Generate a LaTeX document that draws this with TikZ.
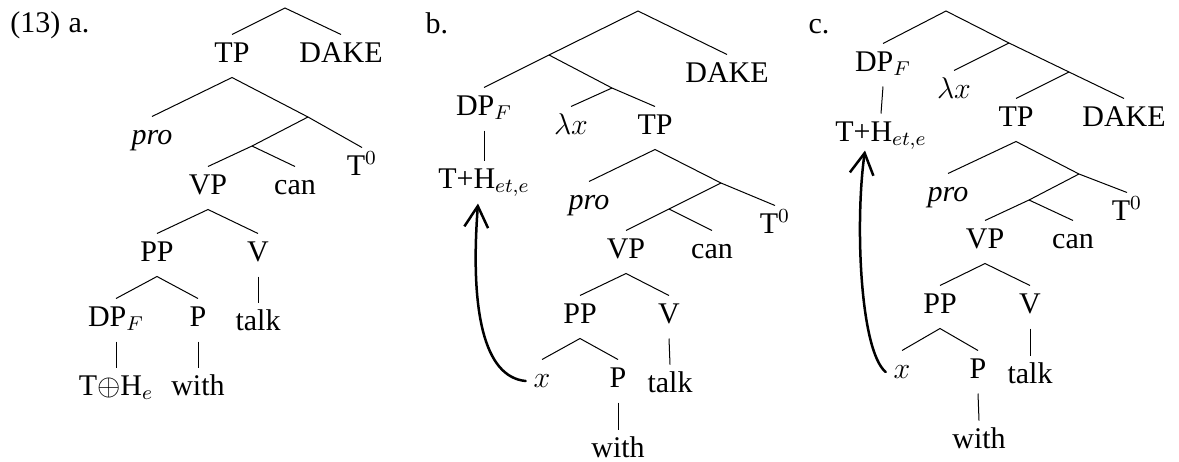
\documentclass[tikz,border=0pt]{standalone}
\usepackage{fontspec}
\setmainfont{Liberation Serif}
\usetikzlibrary{arrows.meta,calc}
\tikzset{
  tn/.style={anchor=base, inner sep=0pt, outer sep=3.2pt, text height=7.8pt, text depth=3pt, font=\fontsize{12}{14}\selectfont},
  lbl/.style={anchor=base west, inner sep=0pt, font=\fontsize{12}{14}\selectfont},
  br/.style={line width=0.4pt},
  arr/.style={line width=1pt, line cap=round, -{Straight Barb[length=8.5pt,width=9.5pt,line width=1pt]}}
}
\begin{document}
\begin{tikzpicture}[x=0.4pt,y=-0.4pt]
\useasboundingbox (0,0) rectangle (1179,461);
% ---------- (13) a.
\node[lbl] (num) at (10,32) {(13)};
\node[lbl] (la) at (68,32) {a.};
\coordinate (a-r) at (285,8);
\node[tn] (a-tp) at (232,62) {TP};
\node[tn] (a-dake) at (341,62) {DAKE};
\node[tn] (a-pro) at (152,144) {\textit{pro}};
\coordinate (a-x1) at (308,117);
\node[tn] (a-t0) at (362,175) {T$^0$};
\coordinate (a-x2) at (252,146);
\node[tn] (a-vp) at (208,194) {VP};
\node[tn] (a-can) at (295,194) {can};
\node[tn] (a-pp) at (157,261) {PP};
\node[tn] (a-v) at (258,261) {V};
\node[tn] (a-dp) at (116,326) {DP$_F$};
\node[tn] (a-p) at (198,326) {P};
\node[tn] (a-talk) at (258,330) {talk};
\node[tn] (a-th) at (116,395) {T$\oplus$H$_e$};
\node[tn] (a-with) at (198,395) {with};
\draw[br] (a-tp.north) -- (a-r) -- (a-dake.north);
\draw[br] (a-pro.north) -- (a-tp.south) -- (a-x1) -- (a-t0.north);
\draw[br] (a-x1) -- (a-x2) -- (a-vp.north);
\draw[br] (a-x2) -- (a-can.north);
\draw[br] (a-pp.north) -- (a-vp.south) -- (a-v.north);
\draw[br] (a-dp.north) -- (a-pp.south) -- (a-p.north);
\draw[br] (a-v.south) -- (a-talk.north);
\draw[br] (a-dp.south) -- (a-th.north);
\draw[br] (a-p.south) -- (a-with.north);
% ---------- b.
\node[lbl] (lb) at (425,33) {b.};
\coordinate (b-r) at (638,11);
\coordinate (b-x1) at (549,55);
\node[tn] (b-dp) at (484,115) {DP$_F$};
\node[tn] (b-dake) at (727,82) {DAKE};
\coordinate (b-x2) at (612,88);
\node[tn] (b-lx) at (571,134) {$\lambda x$};
\node[tn] (b-tp) at (655,134) {TP};
\node[tn] (b-th) at (484,188) {T+H$_{et,e}$};
\coordinate (b-x3) at (721,183);
\node[tn] (b-pro) at (589,209) {\textit{pro}};
\node[tn] (b-t0) at (775,233) {T$^0$};
\coordinate (b-x4) at (669,209);
\node[tn] (b-vp) at (626,258) {VP};
\node[tn] (b-can) at (712,258) {can};
\node[tn] (b-pp) at (580,323) {PP};
\node[tn] (b-v) at (669,323) {V};
\node[tn] (b-x) at (542,387) {$x$};
\node[tn] (b-p) at (618,387) {P};
\node[tn] (b-talk) at (670,392) {talk};
\node[tn] (b-with) at (618,457) {with};
\draw[br] (b-dp.north) -- (b-x1) -- (b-r) -- (b-dake.north);
\draw[br] (b-x1) -- (b-x2) -- (b-tp.north);
\draw[br] (b-x2) -- (b-lx.north);
\draw[br] (b-dp.south) -- (b-th.north);
\draw[br] (b-pro.north) -- (b-tp.south) -- (b-x3) -- (b-t0.north);
\draw[br] (b-x3) -- (b-x4) -- (b-vp.north);
\draw[br] (b-x4) -- (b-can.north);
\draw[br] (b-pp.north) -- (b-vp.south) -- (b-v.north);
\draw[br] (b-x.north) -- (b-pp.south) -- (b-p.north);
\draw[br] (b-v.south) -- (b-talk.north);
\draw[br] (b-p.south) -- (b-with.north);
\draw[arr] (b-x.west) .. controls +(-42,-4) and +(-8,107) .. ($(b-th.south)+(-6,0)$);
% ---------- c.
\node[lbl] (lc) at (808,33) {c.};
\coordinate (c-r) at (946,11);
\node[tn] (c-dp) at (883,71) {DP$_F$};
\coordinate (c-x1) at (1009,43);
\node[tn] (c-lx) at (954,98) {$\lambda x$};
\coordinate (c-x2) at (1069,72);
\node[tn] (c-tp) at (1016,126) {TP};
\node[tn] (c-dake) at (1124,126) {DAKE};
\node[tn] (c-th) at (881,141) {T+H$_{et,e}$};
\node[tn] (c-pro) at (948,201) {\textit{pro}};
\coordinate (c-x3) at (1079,174);
\node[tn] (c-t0) at (1127,220) {T$^0$};
\coordinate (c-x4) at (1029,200);
\node[tn] (c-vp) at (985,248) {VP};
\node[tn] (c-can) at (1073,248) {can};
\node[tn] (c-pp) at (940,313) {PP};
\node[tn] (c-v) at (1030,313) {V};
\node[tn] (c-x) at (902,378) {$x$};
\node[tn] (c-p) at (978,378) {P};
\node[tn] (c-talk) at (1030,383) {talk};
\node[tn] (c-with) at (979,448) {with};
\draw[br] (c-dp.north) -- (c-r) -- (c-x1) -- (c-x2) -- (c-dake.north);
\draw[br] (c-x1) -- (c-lx.north);
\draw[br] (c-x2) -- (c-tp.north);
\draw[br] (c-dp.south) -- (c-th.north);
\draw[br] (c-pro.north) -- (c-tp.south) -- (c-x3) -- (c-t0.north);
\draw[br] (c-x3) -- (c-x4) -- (c-vp.north);
\draw[br] (c-x4) -- (c-can.north);
\draw[br] (c-pp.north) -- (c-vp.south) -- (c-v.north);
\draw[br] (c-x.north) -- (c-pp.south) -- (c-p.north);
\draw[br] (c-v.south) -- (c-talk.north);
\draw[br] (c-p.south) -- (c-with.north);
\draw[arr] (c-x.west) .. controls +(-26,-22) and +(-10,70) .. ($(c-th.south)+(-16,-6)$);
\end{tikzpicture}
\end{document}
